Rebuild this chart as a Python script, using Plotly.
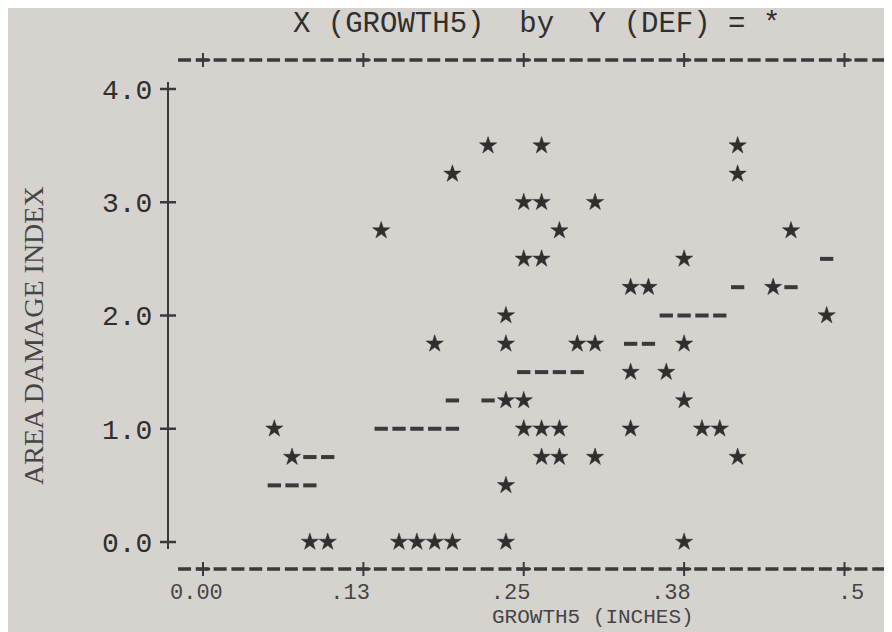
import plotly.graph_objects as go

# ---- data ----
# observations (plotted with '*')
star_x = [0.2222, 0.2639, 0.4167,
          0.1944, 0.4167,
          0.2500, 0.2639, 0.3056,
          0.1389, 0.2778, 0.4583,
          0.2500, 0.2639, 0.3750,
          0.3333, 0.3472, 0.4444,
          0.2361, 0.4861,
          0.1806, 0.2361, 0.2917, 0.3056, 0.3750,
          0.3333, 0.3611,
          0.2361, 0.2500, 0.3750,
          0.0556, 0.2500, 0.2639, 0.2778, 0.3333, 0.3889, 0.4028,
          0.0694, 0.2639, 0.2778, 0.3056, 0.4167,
          0.2361,
          0.0833, 0.0972, 0.1528, 0.1667, 0.1806, 0.1944, 0.2361, 0.3750]
star_y = [3.5, 3.5, 3.5,
          3.25, 3.25,
          3.0, 3.0, 3.0,
          2.75, 2.75, 2.75,
          2.5, 2.5, 2.5,
          2.25, 2.25, 2.25,
          2.0, 2.0,
          1.75, 1.75, 1.75, 1.75, 1.75,
          1.5, 1.5,
          1.25, 1.25, 1.25,
          1.0, 1.0, 1.0, 1.0, 1.0, 1.0, 1.0,
          0.75, 0.75, 0.75, 0.75, 0.75,
          0.5,
          0.0, 0.0, 0.0, 0.0, 0.0, 0.0, 0.0, 0.0]

# predicted values (plotted with '-')
fit_x = [0.4861,
         0.4167, 0.4583,
         0.3611, 0.3750, 0.3889, 0.4028,
         0.3333, 0.3472,
         0.2500, 0.2639, 0.2778, 0.2917,
         0.1944, 0.2222,
         0.1389, 0.1528, 0.1667, 0.1806, 0.1944,
         0.0833, 0.0972,
         0.0556, 0.0694, 0.0833]
fit_y = [2.5,
         2.25, 2.25,
         2.0, 2.0, 2.0, 2.0,
         1.75, 1.75,
         1.5, 1.5, 1.5, 1.5,
         1.25, 1.25,
         1.0, 1.0, 1.0, 1.0, 1.0,
         0.75, 0.75,
         0.5, 0.5, 0.5]

x_ticks = [0.0, 0.125, 0.25, 0.375, 0.5]
x_tick_labels = ["0.00", ".13", ".25", ".38", ".5"]
y_ticks = [0.0, 1.0, 2.0, 3.0, 4.0]
y_tick_labels = ["0.0", "1.0", "2.0", "3.0", "4.0"]

title_text = "X (GROWTH5)  by  Y (DEF) = *"
x_title = "GROWTH5 (INCHES)"
y_title = "AREA DAMAGE INDEX"

# ---- styling ----
PAPER = "#d6d3cf"
INK = "#2f2f2f"
GREY = "#454545"
MONO = "Liberation Mono, Courier New, monospace"
SERIF = "Liberation Serif, Times New Roman, serif"
W, H = 892, 632
ML, MR, MT, MB = 160, 2, 52, 71
PW, PH = W - ML - MR, H - MT - MB
CW = 0.125 / 9  # width of one printer column in data units
XR = [-0.02728, 0.54170]
YR = [-0.2384, 4.256]

def nb(s):
    return s.replace(" ", "\u00a0")

# pad tick labels so that they sit where the printer put them
pads = [("", " "), ("", "  "), ("", "  "), ("", "  "), (" ", "")]
x_tick_text = [nb(a + t + b) for t, (a, b) in zip(x_tick_labels, pads)]

fig = go.Figure()
fig.add_trace(go.Scatter(
    x=fit_x, y=fit_y, mode="markers", name="predicted",
    marker=dict(symbol="line-ew", size=9.5, line=dict(width=4, color="#3a3a3a")),
    hoverinfo="x+y"))
fig.add_trace(go.Scatter(
    x=star_x, y=star_y, mode="markers", name="DEF",
    marker=dict(symbol="star", size=13, color=INK, line=dict(width=0.5, color=INK)),
    hoverinfo="x+y"))

shapes = []
px_y = lambda p: p / PH
px_x = lambda p: p / PW
# top & bottom dashed borders
for yp in (0, 1):
    shapes.append(dict(type="line", xref="x", yref="paper",
                       x0=-1.4 * CW, x1=38.4 * CW, y0=yp, y1=yp,
                       line=dict(color="#3a3a3a", width=3.5, dash="13px,4.8px")))
    for t in x_ticks:
        shapes.append(dict(type="line", xref="x", yref="paper",
                           x0=t, x1=t, y0=yp - px_y(7), y1=yp + px_y(7),
                           line=dict(color="#3a3a3a", width=2)))
        shapes.append(dict(type="line", xref="x", yref="paper",
                           x0=t - 0.4 * CW, x1=t + 0.4 * CW, y0=yp, y1=yp,
                           line=dict(color="#3a3a3a", width=2.5)))
# left and right vertical axes with '+' ticks
for xp in (0, 1):
    shapes.append(dict(type="line", xref="paper", yref="y",
                       x0=xp, x1=xp, y0=y_ticks[0], y1=y_ticks[-1],
                       line=dict(color="#3a3a3a", width=2)))
    for t in y_ticks:
        shapes.append(dict(type="line", xref="paper", yref="y",
                           x0=xp - px_x(8), x1=xp + px_x(8), y0=t, y1=t,
                           line=dict(color="#3a3a3a", width=2.5)))
        shapes.append(dict(type="line", xref="paper", yref="y",
                           x0=xp, x1=xp, y0=t - 7 / 113.25, y1=t + 7 / 113.25,
                           line=dict(color="#3a3a3a", width=2)))

annotations = [
    dict(text=nb(title_text), xref="paper", yref="paper",
         x=(528 - ML) / PW, y=(H - MB - 17) / PH, xanchor="center", yanchor="middle",
         showarrow=False, font=dict(family=MONO, size=29, color=INK)),
    dict(text=nb(x_title), xref="paper", yref="paper",
         x=(585 - ML) / PW, y=(H - MB - 609) / PH, xanchor="center", yanchor="middle",
         showarrow=False, font=dict(family=MONO, size=21, color=GREY)),
    dict(text=y_title, xref="paper", yref="paper", textangle=-90,
         x=(25 - ML) / PW, y=(H - MB - 328) / PH, xanchor="center", yanchor="middle",
         showarrow=False, font=dict(family=SERIF, size=28, color=GREY)),
]

fig.update_layout(
    width=W, height=H,
    margin=dict(l=ML, r=MR, t=MT, b=MB, pad=0),
    paper_bgcolor=PAPER, plot_bgcolor=PAPER,
    showlegend=False,
    shapes=shapes, annotations=annotations,
    xaxis=dict(range=XR, showgrid=False, zeroline=False, showline=False,
               tickmode="array", tickvals=x_ticks, ticktext=x_tick_text,
               ticks="outside", ticklen=3, tickcolor="rgba(0,0,0,0)",
               tickfont=dict(family=MONO, size=22, color=GREY)),
    yaxis=dict(range=YR, showgrid=False, zeroline=False, showline=False,
               tickmode="array", tickvals=y_ticks, ticktext=y_tick_labels,
               ticks="outside", ticklen=9, tickcolor="rgba(0,0,0,0)",
               tickfont=dict(family=MONO, size=28, color=INK)),
)

fig.write_html("out.html")
